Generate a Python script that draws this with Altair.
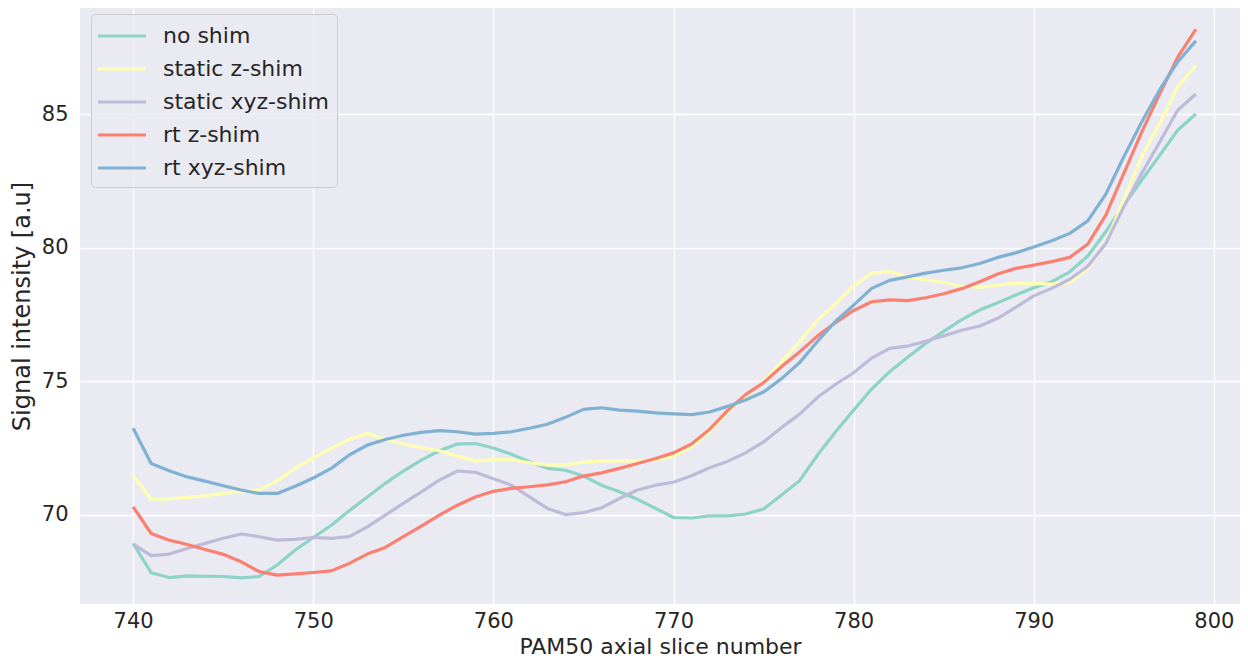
import altair as alt
import pandas as pd

slices = list(range(740, 800))
series_names = ["no shim", "static z-shim", "static xyz-shim", "rt z-shim", "rt xyz-shim"]
colors = ["#8dd3c7", "#ffffb3", "#bebada", "#fb8072", "#80b1d3"]

no_shim = [68.93, 67.83, 67.65, 67.71, 67.70, 67.69, 67.64, 67.69, 68.12, 68.68,
           69.15, 69.61, 70.15, 70.67, 71.18, 71.64, 72.05, 72.40, 72.65, 72.67,
           72.50, 72.27, 71.99, 71.74, 71.67, 71.45, 71.11, 70.86, 70.58, 70.24,
           69.90, 69.88, 69.96, 69.96, 70.03, 70.22, 70.74, 71.28, 72.24, 73.11,
           73.92, 74.71, 75.36, 75.90, 76.42, 76.87, 77.31, 77.67, 77.94, 78.23,
           78.50, 78.73, 79.10, 79.69, 80.60, 81.60, 82.54, 83.47, 84.41, 85.01]

static_z = [71.46, 70.59, 70.60, 70.65, 70.71, 70.80, 70.89, 70.93, 71.27, 71.74,
            72.12, 72.49, 72.82, 73.05, 72.82, 72.65, 72.52, 72.40, 72.20, 72.01,
            72.07, 72.07, 71.95, 71.86, 71.87, 71.97, 72.01, 72.02, 72.02, 72.05,
            72.20, 72.55, 73.10, 73.85, 74.45, 74.98, 75.73, 76.48, 77.29, 77.90,
            78.57, 79.05, 79.11, 78.91, 78.80, 78.70, 78.56, 78.52, 78.60, 78.67,
            78.66, 78.64, 78.69, 79.23, 80.19, 81.79, 83.41, 84.66, 86.03, 86.82]

static_xyz = [68.90, 68.47, 68.53, 68.74, 68.93, 69.12, 69.28, 69.18, 69.05, 69.08,
              69.15, 69.12, 69.18, 69.55, 69.99, 70.43, 70.86, 71.30, 71.64, 71.59,
              71.35, 71.11, 70.67, 70.24, 70.01, 70.08, 70.26, 70.61, 70.93, 71.11,
              71.22, 71.46, 71.76, 72.00, 72.32, 72.73, 73.27, 73.77, 74.40, 74.89,
              75.32, 75.87, 76.23, 76.32, 76.50, 76.70, 76.91, 77.07, 77.36, 77.77,
              78.20, 78.48, 78.82, 79.31, 80.16, 81.54, 82.79, 83.97, 85.16, 85.76]

rt_z = [70.30, 69.30, 69.05, 68.89, 68.70, 68.52, 68.24, 67.87, 67.74, 67.79,
        67.84, 67.90, 68.18, 68.53, 68.78, 69.18, 69.58, 69.99, 70.36, 70.67,
        70.88, 70.99, 71.05, 71.12, 71.24, 71.45, 71.57, 71.74, 71.92, 72.11,
        72.32, 72.65, 73.20, 73.90, 74.50, 74.95, 75.55, 76.10, 76.70, 77.20,
        77.65, 77.98, 78.05, 78.02, 78.13, 78.28, 78.47, 78.73, 79.02, 79.23,
        79.35, 79.48, 79.64, 80.14, 81.22, 82.79, 84.34, 85.78, 87.15, 88.18]

rt_xyz = [73.24, 71.92, 71.65, 71.42, 71.26, 71.09, 70.93, 70.80, 70.80, 71.07,
          71.38, 71.74, 72.24, 72.61, 72.82, 72.98, 73.09, 73.15, 73.11, 73.02,
          73.05, 73.11, 73.24, 73.39, 73.65, 73.95, 74.01, 73.92, 73.88, 73.82,
          73.78, 73.75, 73.85, 74.06, 74.30, 74.60, 75.10, 75.70, 76.50, 77.25,
          77.85, 78.48, 78.78, 78.91, 79.05, 79.16, 79.25, 79.41, 79.64, 79.81,
          80.03, 80.26, 80.54, 81.01, 82.01, 83.41, 84.72, 85.93, 86.97, 87.75]

all_series = [no_shim, static_z, static_xyz, rt_z, rt_xyz]

rows = []
for name, vals in zip(series_names, all_series):
    for i, (s, v) in enumerate(zip(slices, vals)):
        rows.append({"slice": s, "signal": v, "series": name, "idx": i})
df = pd.DataFrame(rows)

FONT = "DejaVu Sans"
TXT = "#262626"

chart = alt.Chart(df).mark_line(strokeWidth=3.2, strokeJoin="round").encode(
    x=alt.X("slice:Q",
            scale=alt.Scale(domain=[737.05, 801.45], nice=False, zero=False),
            axis=alt.Axis(values=[740, 750, 760, 770, 780, 790, 800],
                          title="PAM50 axial slice number",
                          labelBaseline="alphabetic", labelPadding=23,
                          titleFontSize=22,
                          titleBaseline="alphabetic", titleY=49)),
    y=alt.Y("signal:Q",
            scale=alt.Scale(domain=[66.66, 88.98], nice=False, zero=False),
            axis=alt.Axis(values=[70, 75, 80, 85],
                          title="Signal intensity [a.u]",
                          labelPadding=12,
                          titleBaseline="alphabetic", titleX=-50.5, titleY=298)),
    color=alt.Color("series:N",
                    scale=alt.Scale(domain=series_names, range=colors),
                    legend=alt.Legend(title=None, orient="none", legendX=11, legendY=6,
                                      symbolType="M-2,0L2,0", symbolSize=576,
                                      symbolOffset=9,
                                      symbolStrokeWidth=3.2, labelFontSize=22,
                                      labelFont=FONT, labelColor=TXT,
                                      labelOffset=27, labelLimit=400,
                                      padding=8, rowPadding=8,
                                      fillColor="rgba(234,234,242,0.8)",
                                      strokeColor="#cccccc", cornerRadius=4)),
    order=alt.Order("idx:Q"),
).properties(
    width=1160, height=596,
    autosize=alt.AutoSizeParams(type="none"),
    padding={"left": 72, "top": 0, "right": 0, "bottom": 54},
    background="white",
).configure_view(
    fill="#eaeaf2", stroke=None
).configure_axis(
    domain=False, ticks=False, tickSize=0, grid=True, gridColor="white", gridWidth=1.3,
    labelFont=FONT, labelFontSize=21, labelColor=TXT,
    titleFont=FONT, titleFontSize=24, titleFontWeight="normal", titleColor=TXT,
)

chart.save("out.html", embed_options={"renderer": "svg", "actions": False})
